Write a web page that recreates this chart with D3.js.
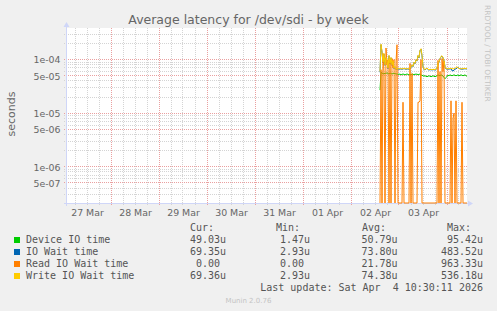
<!DOCTYPE html>
<html>
<head>
<meta charset="utf-8">
<script src="https://cdn.jsdelivr.net/npm/d3@7"></script>
<style>
  body { margin: 0; background: #f0f0f0; }
  svg { display: block; }
  text { font-family: "DejaVu Sans", sans-serif; fill: #666; }
  .mono { font-family: "DejaVu Sans Mono", monospace; font-size: 10px; fill: #555; white-space: pre; }
</style>
</head>
<body>
<script>
// series (values in microseconds, one sample every 30 min from Apr 2 14:30 UTC)
const seriesNames = ['Device IO time', 'IO Wait time', 'Read IO Wait time', 'Write IO Wait time'];
const seriesColors = ['#00cc00', '#0066b3', '#ff8000', '#ffcc00'];

const deviceUs = [
  27, 58, 56, 55, 54, 56, 55, 57, 55, 54,
  56, 55, 54, 55, 56, 54, 55, 53, 54, 53,
  54, 52, 53, 54, 53, 52, 53, 54, 53, 52,
  53, 52, 54, 53, 52, 54, 53, 54, 52, 53,
  54, 52, 51, 50, 49, 50, 49, 48, 49, 50,
  49, 48, 49, 50, 49, 48, 49, 50, 52, 51,
  50, 52, 51, 49, 47, 44, 46, 49, 51, 50,
  52, 51, 50, 51, 52, 51, 50, 51, 52, 50,
  51, 52, 51, 50, 51, 52, 50, 49
];
const ioWaitUs = [
  58, 190, 138, 88, 128, 78, 108, 93, 68, 118,
  83, 108, 78, 93, 68, 73, 65, 67, 67, 66,
  67, 67, 66, 67, 68, 67, 66, 67, 67, 66,
  67, 71, 79, 74, 89, 84, 99, 94, 118, 108,
  148, 158, 118, 74, 65, 65, 66, 69, 65, 64,
  65, 65, 64, 65, 65, 64, 65, 69, 84, 89,
  104, 113, 116, 108, 94, 74, 67, 67, 66, 67,
  67, 68, 62, 62, 63, 67, 67, 70, 72, 69,
  67, 67, 66, 67, 67, 68, 67, 67
];
const readUs = [
  0, 65, 0, 130, 60, 0, 165, 80, 100, 0,
  95, 0, 105, 70, 100, 0, 90, 190, 0, 0,
  0, 0, 0, 16, 0, 0, 0, 0, 0, 0,
  85, 0, 55, 0, 0, 0, 0, 0, 16, 16,
  17, 100, 0, 0, 0, 0, 0, 0, 0, 0,
  0, 0, 0, 0, 0, 0, 0, 0, 97, 0,
  60, 0, 105, 60, 95, 0, 0, 0, 0, 0,
  0, 17, 0, 8, 10, 0, 17, 0, 0, 0,
  0, 0, 16, 0, 0, 0, 0, 0
];
const writeUs = [
  60, 195, 140, 90, 130, 80, 110, 95, 70, 120,
  85, 110, 80, 95, 70, 75, 66, 68, 68, 67,
  68, 68, 67, 68, 69, 68, 67, 68, 68, 67,
  68, 72, 80, 75, 90, 85, 100, 95, 120, 110,
  150, 160, 120, 75, 66, 66, 67, 70, 66, 65,
  66, 66, 65, 66, 66, 65, 66, 70, 85, 90,
  105, 115, 118, 110, 95, 75, 68, 68, 67, 68,
  68, 69, 68, 67, 68, 68, 72, 74, 70, 68,
  68, 67, 68, 68, 69, 68, 68, 69
];
const seriesValues = [deviceUs, ioWaitUs, readUs, writeUs];

// legend statistics (microseconds)
const curUs = [49.03, 69.35, 0, 69.36];
const minUs = [1.47, 2.93, 0, 2.93];
const avgUs = [50.79, 73.80, 21.78, 74.38];
const maxUs = [95.42, 483.52, 963.33, 536.18];
const statHeaders = ['Cur:', 'Min:', 'Avg:', 'Max:'];

// axis ticks
const xTickLabels = ['27 Mar', '28 Mar', '29 Mar', '30 Mar', '31 Mar', '01 Apr', '02 Apr', '03 Apr'];
const yTickValues = [1e-4, 5e-5, 1e-5, 5e-6, 1e-6, 5e-7];
const yTickLabels = ['1e-04', '5e-05', '1e-05', '5e-06', '1e-06', '5e-07'];

const dataStart = Date.UTC(2026, 3, 2, 14, 30);
const stepMs = 30 * 60 * 1000;
const times = deviceUs.map((_, i) => new Date(dataStart + i * stepMs));

// layout
const width = 497;
const height = 311;
const plotLeft = 67, plotRight = 467, plotTop = 28, plotBottom = 203;
const yMin = 2.1e-7, yMax = 3.9e-4;

const svg = d3.select('body').append('svg')
  .attr('width', width)
  .attr('height', height);

svg.append('rect').attr('width', width).attr('height', height).attr('fill', '#f0f0f0');
svg.append('rect')
  .attr('x', plotLeft).attr('y', plotTop)
  .attr('width', plotRight - plotLeft).attr('height', plotBottom - plotTop)
  .attr('fill', '#fff');

const x = d3.scaleUtc()
  .domain([new Date(Date.UTC(2026, 2, 27, 2, 0)), new Date(Date.UTC(2026, 3, 4, 10, 0))])
  .range([plotLeft, plotRight]);
const y = d3.scaleLog()
  .domain([yMin, yMax])
  .range([plotBottom, plotTop]);

// vertical grid: every 6 hours, red at midnight
const gridTimes = d3.utcHour.every(6).range(x.domain()[0], x.domain()[1]);
const px = (v) => Math.floor(v) + 0.5;
svg.append('g').selectAll('line')
  .data(gridTimes.filter((t) => t.getUTCHours() !== 0))
  .join('line')
  .attr('x1', (d) => px(x(d))).attr('x2', (d) => px(x(d)))
  .attr('y1', plotTop).attr('y2', plotBottom + 3)
  .attr('stroke', '#d4d4d4')
  .attr('stroke-dasharray', '1,1');

// horizontal grid: 1..9 per decade, red at 1 and 5
const yGrid = [];
for (let e = -7; e <= -4; e++) {
  for (let m = 1; m <= 9; m++) {
    const v = m * Math.pow(10, e);
    if (v >= yMin && v <= yMax) yGrid.push({ v, major: m === 1 || m === 5 });
  }
}
svg.append('g').selectAll('line')
  .data(yGrid.filter((d) => !d.major))
  .join('line')
  .attr('x1', plotLeft - 3).attr('x2', plotRight)
  .attr('y1', (d) => px(y(d.v))).attr('y2', (d) => px(y(d.v)))
  .attr('stroke', '#d4d4d4')
  .attr('stroke-dasharray', '1,1');

svg.append('g').selectAll('line')
  .data(yGrid.filter((d) => d.major))
  .join('line')
  .attr('x1', plotLeft - 3).attr('x2', plotRight)
  .attr('y1', (d) => px(y(d.v))).attr('y2', (d) => px(y(d.v)))
  .attr('stroke', '#eaa0a0')
  .attr('stroke-dasharray', '1,1');

svg.append('g').selectAll('line')
  .data(gridTimes.filter((t) => t.getUTCHours() === 0))
  .join('line')
  .attr('x1', (d) => px(x(d))).attr('x2', (d) => px(x(d)))
  .attr('y1', plotTop).attr('y2', plotBottom + 3)
  .attr('stroke', '#eaa0a0')
  .attr('stroke-dasharray', '1,1');

// axes lines and arrows
const axisColor = '#cfd6f8';
svg.append('line')
  .attr('x1', plotLeft - 3).attr('x2', plotRight + 3)
  .attr('y1', plotBottom + 0.5).attr('y2', plotBottom + 0.5)
  .attr('stroke', axisColor);
svg.append('line')
  .attr('x1', plotLeft - 0.5).attr('x2', plotLeft - 0.5)
  .attr('y1', plotBottom + 3).attr('y2', plotTop - 2)
  .attr('stroke', axisColor);
svg.append('path')
  .attr('d', `M${plotRight + 1},${plotBottom - 2.5}L${plotRight + 6},${plotBottom + 0.5}L${plotRight + 1},${plotBottom + 3.5}Z`)
  .attr('fill', axisColor);
svg.append('path')
  .attr('d', `M${plotLeft - 3.5},${plotTop - 1}L${plotLeft - 0.5},${plotTop - 6}L${plotLeft + 2.5},${plotTop - 1}Z`)
  .attr('fill', axisColor);

// x tick labels at noon
const noonTicks = xTickLabels.map((_, i) => new Date(Date.UTC(2026, 2, 27 + i, 12)));
const xAxis = svg.append('g')
  .attr('transform', `translate(0,${plotBottom})`)
  .call(d3.axisBottom(x).tickValues(noonTicks).tickSize(0)
    .tickFormat((d, i) => xTickLabels[i]));
xAxis.select('.domain').remove();
xAxis.selectAll('text')
  .attr('y', 12.5).attr('dy', 0)
  .attr('fill', '#666')
  .style('font-size', '9.4px')
  .style('font-family', '"DejaVu Sans", sans-serif');

// y tick labels
const yAxis = svg.append('g')
  .attr('transform', `translate(${plotLeft},0)`)
  .call(d3.axisLeft(y).tickValues(yTickValues).tickSize(0)
    .tickFormat((d, i) => yTickLabels[i]));
yAxis.select('.domain').remove();
yAxis.selectAll('text')
  .attr('x', -6.5).attr('dy', '0.35em')
  .attr('fill', '#666')
  .style('font-size', '9.4px')
  .style('font-family', '"DejaVu Sans", sans-serif');

// data lines
svg.append('clipPath').attr('id', 'plot-clip')
  .append('rect')
  .attr('x', plotLeft).attr('y', plotTop)
  .attr('width', plotRight - plotLeft + 1).attr('height', plotBottom - plotTop + 1);

const line = d3.line()
  .x((d, i) => x(times[i]))
  .y((d) => y(Math.max(d * 1e-6, yMin)));

svg.append('g')
  .attr('clip-path', 'url(#plot-clip)')
  .selectAll('path')
  .data(seriesValues)
  .join('path')
  .attr('d', line)
  .attr('fill', 'none')
  .attr('stroke', (d, i) => seriesColors[i])
  .attr('stroke-width', 1);

// title and labels
svg.append('text')
  .attr('x', 248.5).attr('y', 24)
  .attr('text-anchor', 'middle')
  .style('font-size', '12.5px')
  .text('Average latency for /dev/sdi - by week');

svg.append('text')
  .attr('transform', 'translate(15,114) rotate(-90)')
  .attr('text-anchor', 'middle')
  .style('font-size', '11px')
  .text('seconds');

svg.append('text')
  .attr('transform', 'translate(485,5) rotate(90)')
  .attr('text-anchor', 'start')
  .style('fill', '#c4c4c4')
  .style('font-size', '7.5px')
  .text('RRDTOOL / TOBI OETIKER');

// legend
const colEnds = [220, 304, 391.5, 477];
const headerStarts = [190, 276, 362, 447];
const rowY = (i) => 243 + i * 12;
const fmt = (v) => (v === 0 ? '0.00' : v.toFixed(2));
const unit = (v) => (v === 0 ? '' : 'u');

svg.append('g').selectAll('text')
  .data(statHeaders)
  .join('text')
  .attr('class', 'mono')
  .attr('x', (d, i) => headerStarts[i])
  .attr('y', 231)
  .text((d) => d);

const rows = svg.append('g').selectAll('g')
  .data(seriesNames)
  .join('g');

rows.append('rect')
  .attr('x', 14).attr('y', (d, i) => rowY(i) - 6)
  .attr('width', 6).attr('height', 6)
  .attr('fill', (d, i) => seriesColors[i]);

rows.append('text')
  .attr('class', 'mono')
  .attr('x', 26).attr('y', (d, i) => rowY(i))
  .text((d) => d);

const stats = [curUs, minUs, avgUs, maxUs];
stats.forEach((col, c) => {
  svg.append('g').selectAll('text')
    .data(col)
    .join('text')
    .attr('class', 'mono')
    .attr('x', colEnds[c])
    .attr('y', (d, i) => rowY(i))
    .attr('text-anchor', 'end')
    .text(fmt);
  svg.append('g').selectAll('text')
    .data(col)
    .join('text')
    .attr('class', 'mono')
    .attr('x', colEnds[c])
    .attr('y', (d, i) => rowY(i))
    .text(unit);
});

svg.append('text')
  .attr('class', 'mono')
  .attr('x', 483).attr('y', 291)
  .attr('text-anchor', 'end')
  .text('Last update: Sat Apr  4 10:30:11 2026');

svg.append('text')
  .attr('x', 248.5).attr('y', 303)
  .attr('text-anchor', 'middle')
  .style('fill', '#c4c4c4')
  .style('font-size', '7px')
  .text('Munin 2.0.76');
</script>
</body>
</html>
